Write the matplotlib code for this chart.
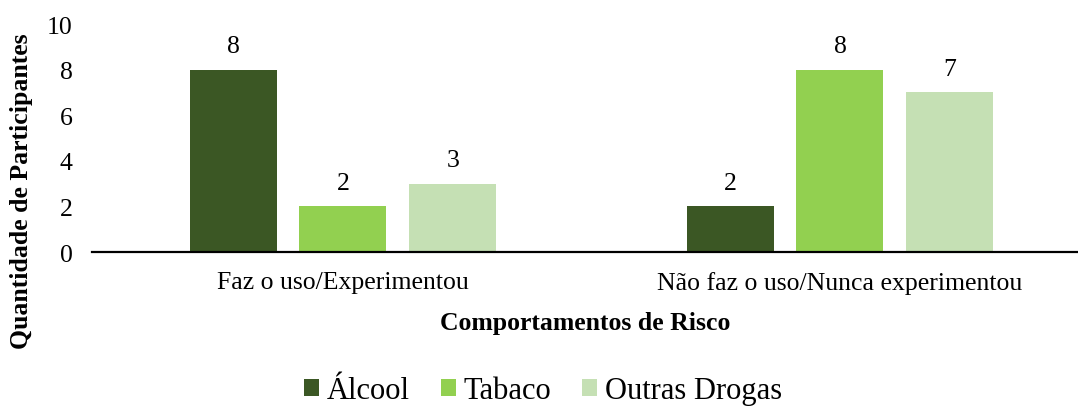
import numpy as np
import matplotlib.pyplot as plt

plt.rcParams['font.family'] = ['Liberation Serif', 'DejaVu Serif']

categorias = ['Faz o uso/Experimentou', 'Não faz o uso/Nunca experimentou']
series = ['Álcool', 'Tabaco', 'Outras Drogas']
alcool = [8, 2]
tabaco = [2, 8]
outras = [3, 7]
cores = ['#3B5724', '#92D050', '#C5E0B4']

fig = plt.figure(figsize=(10.78, 4.10), dpi=100)
ax = fig.add_axes([92/1078, 157/410, 1 - 92/1078, 228/410])

x = np.arange(len(categorias))
w = 0.175
passo = 0.221
for i, (vals, nome) in enumerate(zip([alcool, tabaco, outras], series)):
    pos = x + (i - 1) * passo
    bars = ax.bar(pos, vals, width=w, color=cores[i], label=nome)
    for b, v in zip(bars, vals):
        ax.text(b.get_x() + b.get_width()/2, v + 0.55, str(v), ha='center', va='bottom', fontsize=18.5)

ax.set_xlim(-0.505, 1.479)
ax.set_ylim(0, 10)
ax.set_yticks(range(0, 11, 2))
ax.set_xticks(x)
ax.set_xticklabels(categorias)
ax.tick_params(axis='both', length=0, labelsize=18.5)
ax.tick_params(axis='x', pad=14)
ax.tick_params(axis='y', pad=14)
for s in ['top', 'right', 'left']:
    ax.spines[s].set_visible(False)
ax.spines['bottom'].set_linewidth(1.6)

ax.set_xlabel('Comportamentos de Risco', fontsize=18.5, fontweight='bold', labelpad=12)
fig.text(22/1078, 1 - 191/410, 'Quantidade de Participantes', rotation=90, ha='center', va='center',
         fontsize=18.5, fontweight='bold')

fig.legend(loc='center', bbox_to_anchor=(543/1078, 1 - 392/410), ncol=3, frameon=False,
           fontsize=22, handlelength=0.5, handleheight=0.5, handletextpad=0.25, columnspacing=1.0)

fig.savefig('out.png', dpi=100)
